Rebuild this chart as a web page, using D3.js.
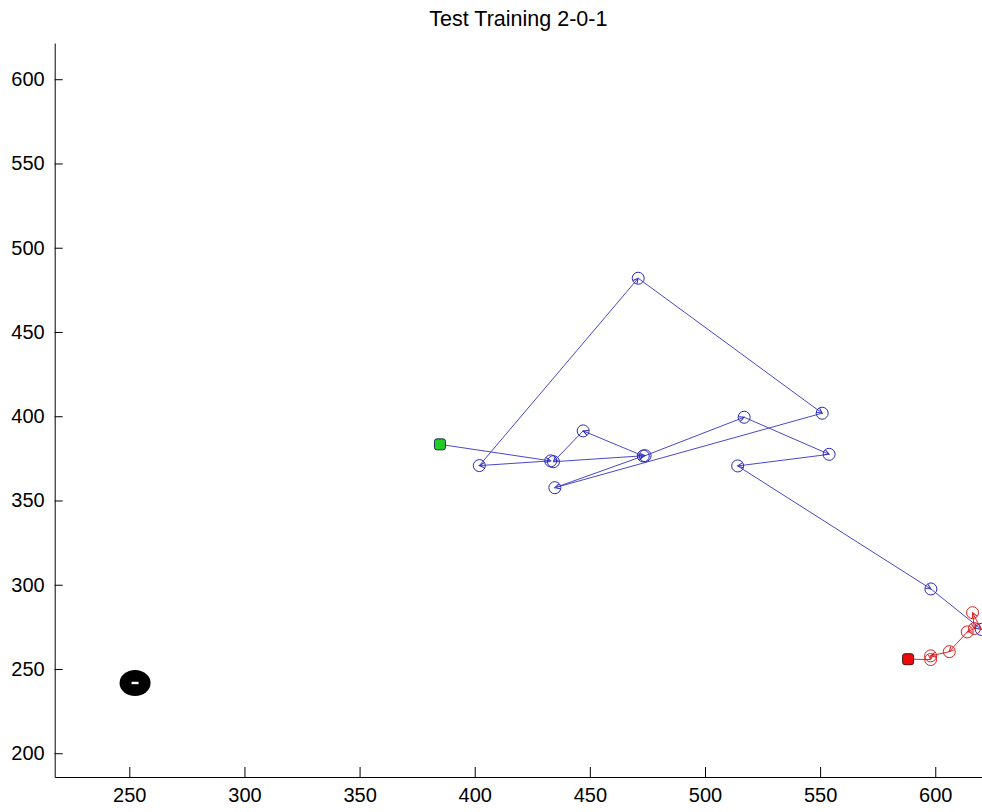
<!DOCTYPE html>
<html>
<head>
<meta charset="utf-8">
<script src="https://cdn.jsdelivr.net/npm/d3@7"></script>
<style>
  body { margin: 0; background: #fff; }
  svg { display: block; font-family: "Liberation Sans", Arial, sans-serif; }
</style>
</head>
<body>
<svg width="982" height="812"></svg>
<script>
// blue track (first point = green start)
const blueX = [384.9, 433.0, 402.0, 471.0, 550.9, 434.8, 473.2, 447.1, 434.2, 474.0, 517.0, 553.9, 514.2, 598.1, 620.0];
const blueY = [383.3, 373.5, 370.7, 481.9, 401.8, 357.6, 376.4, 391.3, 373.0, 376.6, 399.4, 377.4, 370.5, 297.5, 273.5];
// red track (continues from blue end, last point = red stop)
const redX = [620.0, 616.2, 617.0, 613.9, 606.1, 598.0, 598.0, 588.2];
const redY = [273.5, 283.4, 274.0, 272.0, 260.3, 257.8, 255.6, 255.8];
// target blob
const targetX = [252.5];
const targetY = [241.7];

const xTicks = [250, 300, 350, 400, 450, 500, 550, 600];
const yTicks = [200, 250, 300, 350, 400, 450, 500, 550, 600];
const title = 'Test Training 2-0-1';

const svg = d3.select('svg');
const mLeft = 54.7, mRight = 982, mTop = 43, mBottom = 777;

const x = d3.scaleLinear().domain([217.6, 620.3]).range([mLeft, mRight]);
const y = d3.scaleLinear().domain([185.9, 621.5]).range([mBottom, mTop]);

// axes (ticks point inward, no box)
const gx = svg.append('g').attr('transform', `translate(0,${mBottom})`)
  .call(d3.axisBottom(x).tickValues(xTicks).tickSizeInner(-10).tickSizeOuter(0).tickPadding(11));
const gy = svg.append('g').attr('transform', `translate(${mLeft},0)`)
  .call(d3.axisLeft(y).tickValues(yTicks).tickSizeInner(-8).tickSizeOuter(0).tickPadding(10));
[gx, gy].forEach(g => {
  g.selectAll('text').attr('font-size', 20).attr('fill', '#000').attr('font-family', '"Liberation Sans", Arial, sans-serif');
  g.selectAll('line, path').attr('stroke', '#000');
});

svg.append('text').attr('x', (mLeft + mRight) / 2).attr('y', 26)
  .attr('text-anchor', 'middle').attr('font-size', 21.5).text(title);

// small arrowheads at the end of each segment
const defs = svg.append('defs');
function arrow(id, color) {
  defs.append('marker').attr('id', id)
    .attr('viewBox', '-6 -4 8 8').attr('markerWidth', 8).attr('markerHeight', 8)
    .attr('markerUnits', 'userSpaceOnUse').attr('orient', 'auto')
    .append('path').attr('d', 'M-5,-2.5L0,0L-5,2.5')
    .attr('fill', 'none').attr('stroke', color).attr('stroke-width', 1);
}
arrow('ab', '#2a2ab8');
arrow('ar', '#dd2020');

function track(xs, ys, color, marker) {
  const pts = xs.map((d, i) => [d, ys[i]]);
  const segs = d3.pairs(pts);
  svg.append('g').selectAll('line').data(segs).join('line')
    .attr('x1', d => x(d[0][0])).attr('y1', d => y(d[0][1]))
    .attr('x2', d => x(d[1][0])).attr('y2', d => y(d[1][1]))
    .attr('stroke', color).attr('stroke-width', 1)
    .attr('marker-end', `url(#${marker})`);
  return pts;
}

const bPts = track(blueX, blueY, '#4848c8', 'ab');
const rPts = track(redX, redY, '#e02828', 'ar');

// circle markers
svg.append('g').selectAll('circle').data(bPts.slice(1)).join('circle')
  .attr('cx', d => x(d[0])).attr('cy', d => y(d[1])).attr('r', 6)
  .attr('fill', 'none').attr('stroke', '#2a2ab8').attr('stroke-width', 1);
svg.append('g').selectAll('circle').data(rPts.slice(1, -1)).join('circle')
  .attr('cx', d => x(d[0])).attr('cy', d => y(d[1])).attr('r', 6)
  .attr('fill', 'none').attr('stroke', '#dd2020').attr('stroke-width', 1);

// start / stop squares
const ends = [
  { p: bPts[0], fill: '#22cc22', stroke: '#1a2a50' },
  { p: rPts[rPts.length - 1], fill: '#ee0a0a', stroke: '#501010' }
];
svg.append('g').selectAll('rect').data(ends).join('rect')
  .attr('x', d => x(d.p[0]) - 5.5).attr('y', d => y(d.p[1]) - 5.5)
  .attr('width', 11).attr('height', 11).attr('rx', 2.5)
  .attr('fill', d => d.fill).attr('stroke', d => d.stroke).attr('stroke-width', 1);

// target (thick black ring with a tiny hole)
const tg = svg.append('g');
tg.selectAll('ellipse').data(targetX).join('ellipse')
  .attr('cx', d => x(d)).attr('cy', (d, i) => y(targetY[i]))
  .attr('rx', 15.5).attr('ry', 13)
  .attr('fill', '#000');
tg.selectAll('rect').data(targetX).join('rect')
  .attr('x', d => x(d) - 3.5).attr('y', (d, i) => y(targetY[i]) - 1.2)
  .attr('width', 7).attr('height', 2.4).attr('fill', '#fff');
</script>
</body>
</html>
